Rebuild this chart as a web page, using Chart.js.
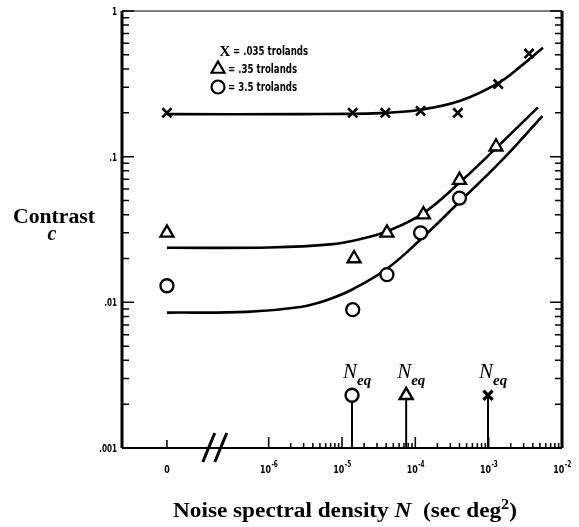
<!DOCTYPE html>
<html>
<head>
<meta charset="utf-8">
<script src="https://cdn.jsdelivr.net/npm/chart.js@4.4.0/dist/chart.umd.min.js"></script>
<style>
  html, body { margin: 0; padding: 0; background: #fff; }
  canvas { display: block; }
</style>
</head>
<body>
<canvas id="contrast-chart" width="579" height="527"></canvas>
<script>
// N = 0 has no place on a log axis, so it sits left of the // break
let zeroN = 4.1e-8;
let breakN = 1.9e-7;

let levels = ['.035 trolands', '.35 trolands', '3.5 trolands'];
let markers = ['crossRot', 'triangle', 'circle'];
let markerSize = [6.5, 7.5, 6.5];

// measured thresholds, one pair of arrays per luminance
let noiseLow = [zeroN, 1.4e-5, 3.9e-5, 1.18e-4, 3.8e-4, 1.35e-3, 3.55e-3];
let contrastLow = [0.20, 0.20, 0.20, 0.206, 0.20, 0.315, 0.51];

let noiseMid = [zeroN, 1.46e-5, 4.1e-5, 1.29e-4, 4.0e-4, 1.26e-3];
let contrastMid = [0.030, 0.020, 0.030, 0.040, 0.069, 0.117];

let noiseHigh = [zeroN, 1.4e-5, 4.1e-5, 1.18e-4, 4.0e-4];
let contrastHigh = [0.013, 0.0089, 0.0155, 0.030, 0.052];

// fitted curves
let fitNoiseLow = [zeroN, 2.7e-6, 3.3e-5, 1.18e-4, 4.1e-4, 1.35e-3, 2.7e-3, 5.5e-3];
let fitLow = [0.196, 0.196, 0.199, 0.21, 0.242, 0.32, 0.415, 0.56];

let fitNoiseMid = [zeroN, 1e-6, 6.9e-6, 1.95e-5, 4.3e-5, 1.29e-4, 4.1e-4, 1.23e-3, 4.7e-3];
let fitMid = [0.0237, 0.0238, 0.025, 0.0275, 0.031, 0.041, 0.067, 0.113, 0.218];

let fitNoiseHigh = [zeroN, 5e-7, 2.7e-6, 6e-6, 1.4e-5, 4.1e-5, 1.18e-4, 4.0e-4, 1.44e-3, 5.4e-3];
let fitHigh = [0.0085, 0.0086, 0.0093, 0.0103, 0.0123, 0.0170, 0.027, 0.049, 0.092, 0.19];

// equivalent noise for each luminance (low, mid, high)
let neqNoise = [9.8e-4, 7.5e-5, 1.37e-5];
let neqMark = 0.0023;

let xDecades = [-6, -5, -4, -3, -2];
let yTicks = [1, 0.1, 0.01, 0.001];
let yTickLabels = ['1', '.1', '.01', '.001'];

function pairs(xs, ys) {
    return xs.map((v, i) => ({ x: v, y: ys[i] }));
}

let pointSets = [pairs(noiseLow, contrastLow), pairs(noiseMid, contrastMid), pairs(noiseHigh, contrastHigh)];
let fitSets = [pairs(fitNoiseLow, fitLow), pairs(fitNoiseMid, fitMid), pairs(fitNoiseHigh, fitHigh)];

let datasets = [];

neqNoise.forEach(function(n, i) {
    datasets.push({
        type: 'line',
        label: 'Neq ' + levels[i],
        data: [{ x: n, y: 0.001 }, { x: n, y: neqMark }],
        borderColor: '#000',
        borderWidth: 2,
        pointStyle: markers[i],
        pointRadius: ctx => ctx.dataIndex === 1 ? markerSize[i] : 0,
        pointBorderWidth: i === 0 ? 3.2 : 2.4,
        pointBorderColor: '#000',
        pointBackgroundColor: '#fff',
        clip: false
    });
});

pointSets.forEach(function(set, i) {
    datasets.push({
        type: 'line',
        label: levels[i],
        data: set,
        showLine: false,
        pointStyle: markers[i],
        pointRadius: markerSize[i],
        pointBorderWidth: i === 0 ? 2.6 : 2.3,
        pointBorderColor: '#000',
        pointBackgroundColor: '#fff',
        clip: false
    });
});

fitSets.forEach(function(set, i) {
    datasets.push({
        type: 'line',
        label: 'fit ' + levels[i],
        data: set,
        borderColor: '#000',
        borderWidth: 2.6,
        pointRadius: 0,
        tension: 0.4
    });
});

// squeezed bold text, the figure uses a narrow face
function narrowText(ctx, text, x, y, size, align, squeeze) {
    ctx.save();
    ctx.font = 'bold ' + size + 'px "DejaVu Sans Condensed", "DejaVu Sans", sans-serif';
    ctx.translate(x, y);
    ctx.scale(squeeze, 1);
    ctx.textAlign = align;
    ctx.fillText(text, 0, 0);
    ctx.restore();
}

function powerLabel(ctx, x, y, exp) {
    ctx.save();
    let sq = 0.8;
    ctx.font = 'bold 11px "DejaVu Sans Condensed", sans-serif';
    let wBase = ctx.measureText('10').width * sq;
    ctx.font = 'bold 8px "DejaVu Sans Condensed", sans-serif';
    let wExp = ctx.measureText(String(exp)).width * sq;
    let left = x - (wBase + wExp) / 2;
    narrowText(ctx, '10', left, y, 11, 'left', sq);
    narrowText(ctx, String(exp), left + wBase + 0.5, y - 6, 8, 'left', sq);
    ctx.restore();
}

// run of text pieces stretched to a given width
function titleRun(ctx, parts, cx, y, width) {
    let total = 0;
    parts.forEach(function(p) {
        ctx.font = p[1];
        total += ctx.measureText(p[0]).width;
    });
    ctx.save();
    ctx.translate(cx - width / 2, y);
    ctx.scale(width / total, 1);
    ctx.textAlign = 'left';
    let px = 0;
    parts.forEach(function(p) {
        ctx.font = p[1];
        ctx.fillText(p[0], px, p[2]);
        px += ctx.measureText(p[0]).width;
    });
    ctx.restore();
}

let frameAndLabels = {
    id: 'frameAndLabels',
    afterDraw(chart) {
        let ctx = chart.ctx;
        let a = chart.chartArea;
        let xs = chart.scales.x;
        let ys = chart.scales.y;
        ctx.save();
        ctx.fillStyle = '#000';
        ctx.lineCap = 'butt';

        // frame
        ctx.strokeStyle = '#555';
        ctx.lineWidth = 1.5;
        ctx.beginPath();
        ctx.moveTo(a.left, a.top);
        ctx.lineTo(a.right, a.top);
        ctx.stroke();
        ctx.strokeStyle = '#000';
        ctx.lineWidth = 3;
        ctx.beginPath();
        ctx.moveTo(a.left, a.top);
        ctx.lineTo(a.left, a.bottom);
        ctx.moveTo(a.right, a.top);
        ctx.lineTo(a.right, a.bottom);
        ctx.stroke();
        ctx.lineWidth = 2;
        ctx.beginPath();
        ctx.moveTo(a.left, a.bottom);
        ctx.lineTo(a.right, a.bottom);
        ctx.stroke();

        // y ticks, pointing inward on both sides
        ctx.lineWidth = 1.5;
        ctx.beginPath();
        for (let d = -3; d <= 0; d++) {
            for (let k = 1; k <= 9; k++) {
                let v = k * Math.pow(10, d);
                if (v > 1.0001) break;
                let py = ys.getPixelForValue(v);
                let len = k === 1 ? 12 : 7;
                ctx.moveTo(a.left, py);
                ctx.lineTo(a.left + len, py);
                ctx.moveTo(a.right, py);
                ctx.lineTo(a.right - len, py);
            }
        }
        ctx.stroke();

        // x ticks, pointing up
        ctx.beginPath();
        let zx = xs.getPixelForValue(zeroN);
        ctx.moveTo(zx, a.bottom);
        ctx.lineTo(zx, a.bottom - 8);
        for (let d = -6; d <= -2; d++) {
            for (let k = 1; k <= 9; k++) {
                let v = k * Math.pow(10, d);
                if (d === -2 && k > 1) break;
                let px = xs.getPixelForValue(v);
                let len = k === 1 ? 11 : 5;
                ctx.moveTo(px, a.bottom);
                ctx.lineTo(px, a.bottom - len);
            }
        }
        ctx.stroke();

        // axis break
        let bx = xs.getPixelForValue(breakN);
        ctx.lineWidth = 3;
        ctx.beginPath();
        [-6, 6].forEach(function(off) {
            ctx.moveTo(bx + off - 7, a.bottom + 14);
            ctx.lineTo(bx + off + 5, a.bottom - 15);
        });
        ctx.stroke();

        // tick labels
        ctx.textBaseline = 'alphabetic';
        narrowText(ctx, '0', zx, a.bottom + 25, 11, 'center', 0.8);
        xDecades.forEach(function(d) {
            powerLabel(ctx, xs.getPixelForValue(Math.pow(10, d)), a.bottom + 25, d);
        });
        yTicks.forEach(function(v, i) {
            narrowText(ctx, yTickLabels[i], a.left - 5, ys.getPixelForValue(v) + 4, 10, 'right', 0.8);
        });

        // key
        let keyY = [51, 69, 87];
        ctx.lineWidth = 2.2;
        ctx.strokeStyle = '#000';
        levels.forEach(function(txt, i) {
            if (i === 0) {
                ctx.fillStyle = '#000';
                ctx.font = 'bold 15px "Liberation Serif", serif';
                ctx.textAlign = 'center';
                ctx.textBaseline = 'middle';
                ctx.fillText('X', 225, keyY[i] + 1);
            } else {
                ctx.fillStyle = '#fff';
                Chart.helpers.drawPoint(ctx, { pointStyle: markers[i], radius: markerSize[i], rotation: 0, borderWidth: 2.2 }, 218, keyY[i]);
            }
            ctx.fillStyle = '#000';
            ctx.textBaseline = 'alphabetic';
            narrowText(ctx, '= ' + txt, i === 0 ? 233 : 228, keyY[i] + 4, 12, 'left', 0.8);
        });

        // N_eq labels over the arrows
        neqNoise.forEach(function(n) {
            let px = xs.getPixelForValue(n);
            ctx.fillStyle = '#000';
            ctx.textAlign = 'center';
            ctx.font = 'italic 21px "Liberation Serif", serif';
            ctx.fillText('N', px - 2, 378);
            ctx.textAlign = 'left';
            ctx.font = 'italic bold 15px "Liberation Serif", serif';
            ctx.fillText('eq', px + 5, 385);
        });

        // axis titles
        titleRun(ctx, [['Contrast', 'bold 20px "Liberation Serif", serif', 0]], 54, 223, 82);
        ctx.textAlign = 'center';
        ctx.font = 'italic bold 20px "Liberation Serif", serif';
        ctx.fillText('c', 52, 240);

        titleRun(ctx, [
            ['Noise spectral density ', 'bold 20px "Liberation Serif", serif', 0],
            ['N', 'italic bold 20px "Liberation Serif", serif', 0],
            ['  (sec deg', 'bold 20px "Liberation Serif", serif', 0],
            ['2', 'bold 14px "Liberation Serif", serif', -8],
            [')', 'bold 20px "Liberation Serif", serif', 0]
        ], 345, 517, 344);

        ctx.restore();
    }
};

let contrastChart = new Chart(document.getElementById('contrast-chart').getContext('2d'), {
    type: 'line',
    data: { datasets: datasets },
    options: {
        responsive: false,
        animation: false,
        layout: { padding: { left: 122, right: 17, top: 11, bottom: 79 } },
        scales: {
            x: { type: 'logarithmic', min: 1e-8, max: 1e-2, display: false },
            y: { type: 'logarithmic', min: 1e-3, max: 1, display: false }
        },
        plugins: {
            legend: { display: false },
            tooltip: { enabled: false }
        }
    },
    plugins: [frameAndLabels]
});
</script>
</body>
</html>
